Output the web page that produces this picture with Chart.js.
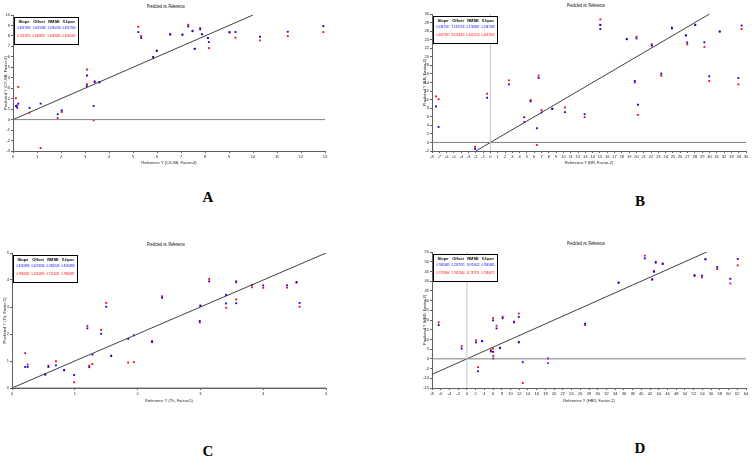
<!DOCTYPE html>
<html>
<head>
<meta charset="utf-8">
<script src="https://cdn.jsdelivr.net/npm/chart.js@4.4.1/dist/chart.umd.min.js"></script>
<style>
    body { margin: 0; background: #ffffff; width: 752px; height: 475px; position: relative; overflow: hidden; }
    canvas { position: absolute; }
    .tag { position: absolute; font: bold 15px 'Liberation Serif', serif; color: #000; transform: translate(-50%, -50%); }
</style>
</head>
<body>
<canvas id="chartA" style="left:0px;top:0px;" width="335" height="170"></canvas>
<canvas id="chartB" style="left:380px;top:0px;" width="372" height="170"></canvas>
<canvas id="chartC" style="left:0px;top:235px;" width="335" height="170"></canvas>
<canvas id="chartD" style="left:380px;top:235px;" width="372" height="170"></canvas>
<div class="tag" style="left:208px;top:197px;">A</div>
<div class="tag" style="left:640px;top:201px;">B</div>
<div class="tag" style="left:208px;top:451px;">C</div>
<div class="tag" style="left:640px;top:448px;">D</div>
<script>
// Panel A (CX-SB, Factor-4)
const aRef = [0.12, 0.17, 0.22, 0.69, 1.15, 1.86, 2.03, 3.08, 3.08, 3.36, 3.4, 3.6, 5.22, 5.34, 5.84, 5.99, 6.55, 7.06, 7.3, 7.48, 7.57, 7.8, 7.87, 8.12, 8.16, 9.02, 9.27, 10.29, 11.45, 12.93];
const aBlue = [1.3, 1.15, 1.53, 1.12, 1.53, 0.51, 0.89, 4.22, 3.2, 1.31, 3.58, 3.58, 8.37, 7.8, 6.0, 6.55, 8.12, 8.12, 8.91, 8.45, 6.77, 8.63, 8.15, 7.8, 7.41, 8.37, 8.37, 7.92, 8.4, 8.94];
const aRed = [2.05, 1.35, 3.13, 0.67, -2.72, 0.16, 0.73, 4.79, 3.39, -0.06, 3.67, 3.55, 8.88, 7.99, 5.88, 6.61, 8.21, 8.12, 9.07, 8.5, 6.77, 8.75, 8.18, 7.8, 6.84, 8.31, 7.83, 7.57, 7.99, 8.37];
const aLine = [0, 10];
const aStats = [['0.8537963', '1.0915948', '1.5280768', '0.8537963'], ['0.7653024', '0.9408957', '2.0249469', '0.8530469']];

// Panel B (BR, Factor-2)
const bRef = [-7.45, -7.1, -2.1, -0.45, 2.52, 4.63, 5.5, 6.36, 6.6, 7.0, 8.47, 10.2, 12.9, 15.05, 15.05, 18.67, 19.77, 20.0, 20.2, 22.1, 23.4, 24.85, 26.77, 26.95, 28.05, 29.3, 29.97, 31.4, 33.95, 34.4];
const bBlue = [8.4, 3.63, -1.5, 10.44, 13.57, 5.9, 9.6, 3.32, 15.05, 7.0, 7.8, 7.07, 6.6, 27.4, 26.48, 24.1, 14.35, 24.3, 8.8, 22.6, 16.07, 26.6, 25.0, 23.35, 27.4, 23.4, 15.45, 25.9, 15.05, 27.3];
const bRed = [10.75, 10.1, -1.0, 11.38, 14.5, 4.8, 9.9, -0.6, 15.6, 7.55, 7.93, 8.17, 5.9, 28.75, 27.5, 24.2, 14.0, 24.7, 6.45, 22.96, 15.6, 26.87, 25.0, 22.9, 27.5, 22.3, 14.35, 25.9, 13.57, 26.48];
const bLine = [-2, 30];
const bStats = [['0.5387947', '7.167516', '6.1748867', '0.5387948'], ['0.4097097', '8.3744459', '6.3452214', '0.4097459']];

// Panel C (Th, Factor-5)
const cRef = [0.21, 0.25, 0.53, 0.58, 0.7, 0.83, 0.99, 1.2, 1.23, 1.28, 1.42, 1.5, 1.58, 1.85, 1.94, 2.23, 2.39, 2.99, 3.0, 3.14, 3.41, 3.41, 3.57, 3.57, 3.82, 4.0, 4.38, 4.53, 4.58];
const cBlue = [0.78, 0.78, 0.5, 0.78, 0.84, 0.67, 0.48, 2.21, 0.77, 1.24, 2.01, 3.01, 1.2, 1.82, 1.95, 1.7, 3.34, 2.48, 3.04, 3.95, 3.44, 3.13, 3.95, 3.14, 3.82, 3.8, 3.8, 3.93, 3.15];
const cRed = [1.29, 0.87, 0.5, 0.83, 0.99, 0.65, 0.21, 2.3, 0.83, 0.89, 2.15, 3.15, 1.18, 0.94, 0.96, 1.74, 3.4, 2.43, 3.06, 4.04, 3.45, 2.97, 3.91, 3.28, 3.73, 3.71, 3.72, 3.9, 3.01];
const cLine = [0, 5];
const cStats = [['0.8130896', '0.4293536', '0.585249', '0.8130896'], ['0.7866582', '0.4290695', '0.7153021', '0.7866387']];

// Panel D (HBD, Factor-2)
const dRef = [-6.47, -1.2, 2.1, 2.57, 3.5, 5.5, 6.0, 6.0, 6.05, 6.8, 7.6, 8.2, 10.8, 11.9, 11.9, 12.8, 18.6, 27.1, 34.8, 40.8, 42.5, 42.9, 43.3, 44.9, 52.2, 53.9, 54.7, 57.4, 60.4, 62.1];
const dBlue = [17.4, 5.3, 8.45, -6.4, 9.1, 3.8, 19.8, 3.6, 0.2, 15.7, 5.6, 20.9, 18.8, 8.45, 21.55, -1.7, 0.17, 18.1, 39.3, 51.7, 41.0, 44.8, 49.5, 48.8, 43.1, 42.8, 51.2, 47.2, 41.2, 51.4];
const dRed = [18.8, 6.55, 9.5, -4.3, 9.1, 4.5, 21.0, 5.3, 1.55, 17.1, 5.7, 21.7, 19.1, 8.8, 23.3, -12.4, -2.2, 17.4, 39.1, 53.1, 40.7, 45.2, 50.0, 49.1, 42.6, 41.9, 51.4, 46.2, 38.8, 48.1];
const dLine = [-8, 55];
const dStats = [['0.7845683', '5.2337925', '10.919612', '0.7845685'], ['0.7373966', '5.7832844', '11.737371', '0.7366672']];

const statHeaders = ['Slope', 'Offset', 'RMSE', 'R-Square'];
const FONT = "'Liberation Sans Narrow', 'Liberation Sans', sans-serif";

const toPoints = (xs, ys) => xs.map((x, i) => ({ x: x, y: ys[i] }));

const makePanel = (id, p) => {
    // title + statistics table drawn on top of the plot
    const overlay = {
        id: 'overlay',
        afterDraw: (chart) => {
            const { ctx, chartArea: { left, top, right } } = chart;
            ctx.save();
            ctx.fillStyle = '#000';
            ctx.textAlign = 'center';
            ctx.textBaseline = 'middle';
            ctx.font = '5px ' + FONT;
            ctx.fillText('Predicted vs. Reference', (left + right) / 2 - 3, top - 8, 38);

            const bx = left + 1, by = top + 2, bw = 64, bh = 27;
            ctx.fillStyle = '#ffffff';
            ctx.fillRect(bx, by, bw, bh);
            ctx.strokeStyle = '#000';
            ctx.lineWidth = 1;
            ctx.strokeRect(bx + 0.5, by + 0.5, bw, bh);
            const cols = [10, 25, 40, 55];
            ctx.font = 'bold 4px ' + FONT;
            ctx.fillStyle = '#000';
            statHeaders.forEach((h, i) => ctx.fillText(h, bx + cols[i], by + 4.5, 12));
            ctx.font = '4px ' + FONT;
            ctx.fillStyle = '#0000ff';
            p.stats[0].forEach((v, i) => ctx.fillText(v, bx + cols[i], by + 11, 13));
            ctx.fillStyle = '#ff0000';
            p.stats[1].forEach((v, i) => ctx.fillText(v, bx + cols[i], by + 18.5, 13));
            ctx.restore();
        }
    };

    const datasets = [
        {
            type: 'line',
            data: [{ x: p.xMin, y: 0 }, { x: p.xMax, y: 0 }],
            borderColor: '#808080', borderWidth: 1, pointRadius: 0
        },
        {
            type: 'line',
            data: p.line.map(v => ({ x: v, y: v })),
            borderColor: '#404040', borderWidth: 1, pointRadius: 0
        },
        {
            data: toPoints(p.ref, p.blue),
            pointStyle: 'rect', pointRadius: 1.3,
            backgroundColor: '#0000ff', borderColor: '#0000ff', borderWidth: 0
        },
        {
            data: toPoints(p.ref, p.red),
            pointStyle: 'rect', pointRadius: 1.3,
            backgroundColor: '#ff0000', borderColor: '#ff0000', borderWidth: 0
        }
    ];
    if (p.vline) {
        datasets.unshift({
            type: 'line',
            data: [{ x: 0, y: p.yMin }, { x: 0, y: p.yMax }],
            borderColor: '#c8c8c8', borderWidth: 1, pointRadius: 0
        });
    }

    const tickFont = { family: FONT, size: 4 };

    new Chart(document.getElementById(id).getContext('2d'), {
        type: 'scatter',
        plugins: [overlay],
        data: { datasets: datasets },
        options: {
            responsive: false,
            animation: false,
            layout: { padding: { left: p.padL, top: p.padT, right: p.padR, bottom: 0 } },
            plugins: { legend: { display: false }, tooltip: { enabled: false } },
            scales: {
                x: {
                    type: 'linear', min: p.xMin, max: p.xMax,
                    afterFit: (s) => { s.height = p.xH; },
                    grid: { drawOnChartArea: false, tickLength: 2, color: '#606060' },
                    border: { color: '#606060' },
                    ticks: { stepSize: p.xStep, autoSkip: false, maxRotation: 0, padding: 1, font: tickFont, color: '#222' },
                    title: { display: true, text: p.xTitle, font: { family: FONT, size: 4 }, color: '#222', padding: { top: 0, bottom: p.xTitlePad } }
                },
                y: {
                    type: 'linear', min: p.yMin, max: p.yMax,
                    afterFit: (s) => { s.width = 12; },
                    grid: { drawOnChartArea: false, tickLength: 2, color: '#606060' },
                    border: { color: '#606060' },
                    ticks: { stepSize: p.yStep, autoSkip: false, padding: 1, font: tickFont, color: '#222' },
                    title: { display: true, text: p.yTitle, font: { family: FONT, size: 4 }, color: '#222', padding: { top: 2, bottom: 0 } }
                }
            }
        }
    });
};

document.addEventListener('DOMContentLoaded', () => {
    makePanel('chartA', {
        ref: aRef, blue: aBlue, red: aRed, line: aLine, stats: aStats,
        xMin: 0, xMax: 13, xStep: 1, yMin: -3, yMax: 10, yStep: 1, vline: false,
        xTitle: 'Reference Y (CX-SB, Factor-4)', yTitle: 'Predicted Y (CX-SB, Factor-4)',
        padL: 1, padT: 15, padR: 10, xH: 19, xTitlePad: 5
    });
    makePanel('chartB', {
        ref: bRef, blue: bBlue, red: bRed, line: bLine, stats: bStats,
        xMin: -8, xMax: 35, xStep: 1, yMin: -2, yMax: 30, yStep: 2, vline: true,
        xTitle: 'Reference Y (BR, Factor-2)', yTitle: 'Predicted Y (BR, Factor-2)',
        padL: 40, padT: 14, padR: 6, xH: 19, xTitlePad: 5
    });
    makePanel('chartC', {
        ref: cRef, blue: cBlue, red: cRed, line: cLine, stats: cStats,
        xMin: 0, xMax: 5, xStep: 1, yMin: 0, yMax: 5, yStep: 1, vline: false,
        xTitle: 'Reference Y (Th, Factor-5)', yTitle: 'Predicted Y (Th, Factor-5)',
        padL: 0, padT: 18, padR: 9, xH: 17, xTitlePad: 2
    });
    makePanel('chartD', {
        ref: dRef, blue: dBlue, red: dRed, line: dLine, stats: dStats,
        xMin: -8, xMax: 64, xStep: 2, yMin: -15, yMax: 55, yStep: 5, vline: true,
        xTitle: 'Reference Y (HBD, Factor-2)', yTitle: 'Predicted Y (HBD, Factor-2)',
        padL: 40, padT: 17, padR: 6, xH: 17, xTitlePad: 2
    });
});
</script>
</body>
</html>
